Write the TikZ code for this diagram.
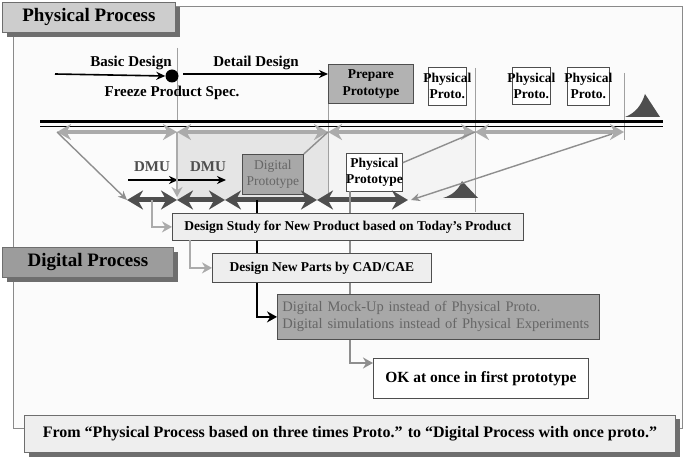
\documentclass[tikz,border=0pt]{standalone}
\usepackage{fontspec}
\setmainfont{Liberation Serif}
\usetikzlibrary{arrows.meta,shadows,calc}

\definecolor{framegray}{HTML}{8A8A8A}
\definecolor{paper}{HTML}{FBFBFB}
\definecolor{titlefill}{HTML}{CDCDCD}
\definecolor{digtitle}{HTML}{9C9C9C}
\definecolor{shadowgray}{HTML}{6E6E6E}
\definecolor{protofill}{HTML}{B2B2B2}
\definecolor{digfill}{HTML}{A8A8A8}
\definecolor{digtext}{HTML}{666666}
\definecolor{lightbox}{HTML}{EEEEEE}
\definecolor{lightarrow}{HTML}{ABABAB}
\definecolor{darkarrow}{HTML}{4E4E4E}
\definecolor{midgray}{HTML}{8E8E8E}
\definecolor{guidegray}{HTML}{A0A0A0}

\newcommand{\fsz}[2]{\fontsize{#1}{#2}\selectfont}

\begin{document}
\begin{tikzpicture}[x=1pt,y=-1pt,
  titlebox/.style={draw=shadowgray, line width=0.8pt, inner sep=0pt,
    font=\bfseries\fsz{19}{21},
    drop shadow={shadow xshift=5pt, shadow yshift=-5pt, fill=shadowgray, opacity=1}},
  lbl/.style={font=\bfseries\fsz{15}{17}, inner sep=0pt},
  boxbase/.style={draw=darkarrow, line width=0.8pt, inner sep=0pt, align=center},
  pbox/.style={boxbase, fill=white, font=\bfseries\fsz{13.5}{16}, inner xsep=-6pt},
  digbox/.style={boxbase, fill=digfill, text=digtext, font=\fsz{13.5}{16}},
  stepbox/.style={boxbase, fill=lightbox, font=\bfseries\fsz{13.5}{16}},
  dmu/.style={font=\bfseries\fsz{15}{16}, text=darkarrow, inner sep=0pt},
  guide/.style={draw=guidegray, line width=0.7pt},
  blackarrow/.style={draw=black, line width=1.6pt, -{Stealth[length=9pt,width=8pt]}},
  grayrow/.style={draw=lightarrow, line width=4pt, {Stealth[length=14pt,width=16pt]}-{Stealth[length=14pt,width=16pt]}},
  darkrow/.style={draw=darkarrow, line width=5pt, {Stealth[length=16pt,width=19pt]}-{Stealth[length=16pt,width=19pt]}},
  diag/.style={draw=midgray, line width=1.4pt},
  diagtip/.style={diag, -{Stealth[length=9pt,width=8pt]}},
  lightline/.style={draw=lightarrow, line width=2.6pt},
  lighttip/.style={lightline, -{Stealth[length=10pt,width=11pt]}},
  midline/.style={draw=midgray, line width=2.6pt},
  midtip/.style={midline, -{Stealth[length=10pt,width=11pt]}},
  blackline/.style={draw=black, line width=2.6pt},
  blacktip/.style={blackline, -{Stealth[length=10pt,width=11pt]}},
]
\useasboundingbox (0,0) rectangle (686,457);
\fill[white] (0,0) rectangle (686,457);

% outer frame
\draw[draw=framegray, line width=0.9pt, fill=paper] (13,6) rectangle (682,428);

% shaded DMU zone
\fill[gray!20] (177,132) rectangle (328,200);
\fill[gray!9] (328,132) rectangle (475,200);

% thin phase separators
\draw[guide] (177,48) -- (177,122);
\draw[guide] (328,100) -- (328,200);
\draw[guide] (475,68) -- (475,212);
\draw[guide] (624,73) -- (624,140);

% titles
\node[titlebox, fill=titlefill, anchor=north west, minimum width=173pt, minimum height=30pt] (phystitle) at (2,2) {Physical Process};
\node[titlebox, fill=digtitle, anchor=north west, minimum width=171pt, minimum height=30pt] (digtitle) at (2,247) {Digital Process};

% ---- physical process timeline ----
\coordinate (bd0) at (55,74);
\coordinate (dd0) at (183,74);
\node[circle, fill=black, minimum size=13pt, inner sep=0pt] (freeze) at (172,76) {};
\node[boxbase, fill=protofill, font=\bfseries\fsz{13.5}{17}, anchor=north west, minimum width=85pt, minimum height=39pt] (prep) at (328,64) {Prepare\\Prototype};
\node[pbox, anchor=north west, minimum width=38pt, minimum height=38pt] (pp1) at (428,67) {Physical\\Proto.};
\node[pbox, anchor=north west, minimum width=38pt, minimum height=37pt] (pp2) at (512,67) {Physical\\Proto.};
\node[pbox, anchor=north west, minimum width=42pt, minimum height=38pt] (pp3) at (567,67) {Physical\\Proto.};

\draw[blackarrow] (bd0) -- (freeze.west);
\draw[blackarrow] (dd0) -- (prep.west |- dd0);

\node[lbl] (basic) at (131,63) {Basic Design};
\node[lbl] (detail) at (256,63) {Detail Design};
\node[lbl] (spec) at (172,93) {Freeze Product Spec.};

% end-of-process markers
\fill[darkarrow] (625,117) .. controls (636,113) and (642,104) .. (645,94) -- (660,117) -- cycle;
\fill[darkarrow] (443,198) .. controls (453,195) and (459,189) .. (462,181) -- (478,198) -- cycle;

% main time axis
\draw[black, line width=3pt] (40,122) -- (663,122);
\draw[black, line width=0.8pt] (40,126.5) -- (663,126.5);

% physical phase spans
\coordinate (g0) at (57,132);
\coordinate (g1) at (177,132);
\coordinate (g2) at (328,132);
\coordinate (g3) at (475,132);
\coordinate (g4) at (624,132);
\draw[grayrow] (g0) -- (g1);
\draw[grayrow] (g1) -- (g2);
\draw[grayrow] (g2) -- (g3);
\draw[grayrow] (g3) -- (g4);

% ---- digital phase row ----
\coordinate (d0) at (127,200);
\coordinate (d1) at (177,200);
\coordinate (d2) at (225,200);
\coordinate (d3) at (317,200);
\coordinate (d4) at (408,200);

\node[dmu] (dmu1) at (152,167) {DMU};
\node[dmu] (dmu2) at (208,167) {DMU};
\coordinate (m0) at (128,180);
\coordinate (m1) at (178,180);
\coordinate (m2) at (226,180);
\draw[blackarrow] (m0) -- (m1);
\draw[blackarrow] (m1) -- (m2);

\node[digbox, anchor=north west, minimum width=61pt, minimum height=40pt, inner xsep=-2pt] (dproto) at (242,154) {Digital\\Prototype};
\node[pbox, anchor=north west, minimum width=56pt, minimum height=38pt] (pproto) at (346,153) {Physical\\Prototype};

\draw[lighttip] (g1) -- ([yshift=3pt]d1);

\draw[diagtip] (g0) -- (d0);
\draw[diag] (dproto.north east) -- (g2);
\draw[diag] ($(pproto.north east)!0.25!(pproto.south east)$) -- (g3);
\draw[diagtip] ([xshift=-12pt,yshift=-2pt]g4) -- ([xshift=3pt]d4);

\draw[darkrow] (d0) -- (d1);
\draw[darkrow] (d1) -- (d2);
\draw[darkrow] (d2) -- (d3);
\draw[darkrow] (d3) -- (d4);

% ---- digital process steps ----
\node[stepbox, anchor=north west, minimum width=351pt, minimum height=27pt] (study) at (172,213) {Design Study for New Product based on Today's Product};
\node[stepbox, anchor=north west, minimum width=219pt, minimum height=29pt] (parts) at (212,253) {Design New Parts by CAD/CAE};
\node[digbox, font=\fsz{14.5}{17}, anchor=north west, minimum width=322pt, minimum height=45pt, align=left, text width=312pt, inner xsep=5pt] (mock) at (277,294) {Digital Mock-Up instead of Physical Proto.\\Digital simulations instead of Physical Experiments};
\node[boxbase, fill=white, font=\bfseries\fsz{15.5}{17}, anchor=north west, minimum width=215pt, minimum height=40pt] (ok) at (373,358) {OK at once in first prototype};

% black path: DMU row to digital mock-up
\coordinate (kstem) at (257,200);
\draw[blackline] (kstem) -- (kstem |- study.north);
\draw[blackline] (kstem |- study.south) -- (kstem |- parts.north);
\draw[blacktip] (kstem |- parts.south) |- (mock.west);

% grey path: physical prototype down to first-time-right prototype
\coordinate (gstem) at (350,191);
\draw[midline] (gstem) -- (gstem |- study.north);
\draw[midline] (gstem |- study.south) -- (gstem |- parts.north);
\draw[midline] (gstem |- parts.south) -- (gstem |- mock.north);
\draw[midtip] (gstem |- mock.south) |- ([yshift=-5pt]ok.north west);

% light paths into the study and parts boxes
\coordinate (lstem) at (152,200);
\draw[lighttip] (lstem) |- (study.west);
\coordinate (pstem) at (190,240);
\draw[lighttip] (pstem) |- (parts.west);

% conclusion banner
\node[titlebox, fill=lightbox, font=\bfseries\fsz{16}{18}, anchor=north west, minimum width=651pt, minimum height=37pt,
  drop shadow={shadow xshift=5pt, shadow yshift=-4pt, fill=shadowgray, opacity=1}] (banner) at (24,415)
  {From “Physical Process based on three times Proto.” to “Digital Process with once proto.”};
\end{tikzpicture}
\end{document}
